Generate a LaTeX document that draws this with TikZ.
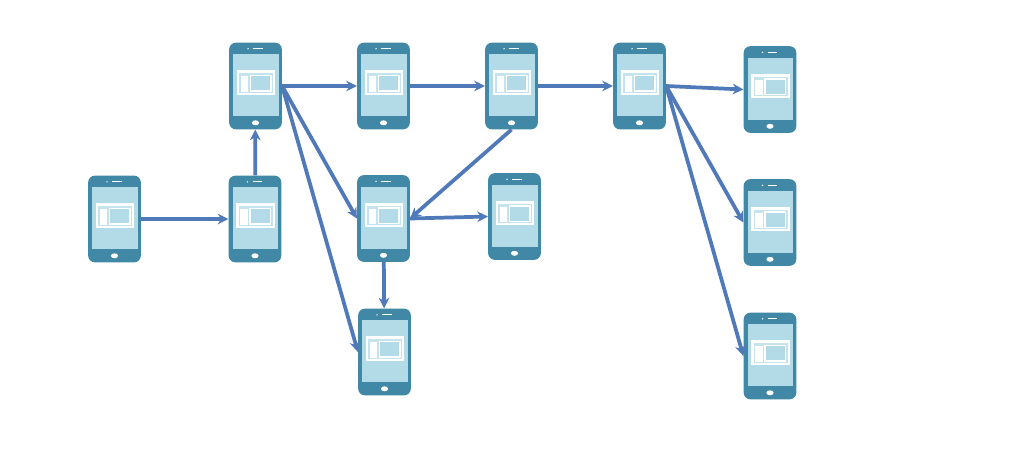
\documentclass[tikz,border=0pt]{standalone}
\usepackage{tikz}
\usetikzlibrary{arrows.meta}
\definecolor{phonecol}{HTML}{4088A6}
\definecolor{screencol}{HTML}{B2DAE7}
\definecolor{arrowcol}{HTML}{4F79B9}
\tikzset{
  phonebody/.style={draw=none, fill=phonecol, rectangle, rounded corners=5pt, inner sep=0pt, minimum width=39.5pt, minimum height=65pt},
  link/.style={-{Stealth[length=8pt,width=8pt]},line width=2.8pt,arrowcol}
}
\begin{document}
\begin{tikzpicture}[x=.75pt,y=-.75pt]
\useasboundingbox (0,0) rectangle (1020,450);
\fill[white] (0,0) rectangle (1020,450);
% phones
\foreach \n/\px/\py in {src/114.5/219, up/255/219, top/255.5/86, topb/383.5/86, topc/511.5/86, topd/639.5/86,
    endg/770/89.5, endh/770/222.5, endi/770/356, mid/383.5/218.5, midr/514.5/216.5, low/384.5/352} {
  \node[phonebody] (\n) at (\px,\py) {};
  \begin{scope}[shift={(\n.center)}]
    \fill[screencol] (-22.5,-32) rectangle (23,30);
    \fill[white] (-19,-16) rectangle (19.5,8.5);
    \fill[screencol!75!white] (-16.5,-13) rectangle (17.5,6.5);
    \fill[white] (-15,-10) rectangle (-7.5,5.5);
    \draw[white,line width=1pt,fill=screencol] (-5,-10.5) rectangle (15.5,5);
    \fill[white] (0,36.8) ellipse (3.6 and 2.5);
    \draw[white,line width=.8pt] (-2.5,-37.2) -- (7,-37.2);
    \fill[white] (-7.5,-37.2) circle (.8);
  \end{scope}
}
% connections
\draw[link] (src) -- (up);
\draw[link] (up) -- (top);
\draw[link] (top) -- (topb);
\draw[link] (topb) -- (topc);
\draw[link] (topc) -- (topd);
\draw[link] (topd.east) -- (endg.west);
\draw[link] (topd.east) -- (endh.west);
\draw[link] (topd.east) -- (endi.west);
\draw[link] (top.east) -- (mid.west);
\draw[link] (top.east) -- (low.west);
\draw[link] (topc.south) -- (mid.east);
\draw[link] (mid.east) -- (midr.west);
\draw[link] (mid) -- (low);
\end{tikzpicture}
\end{document}
